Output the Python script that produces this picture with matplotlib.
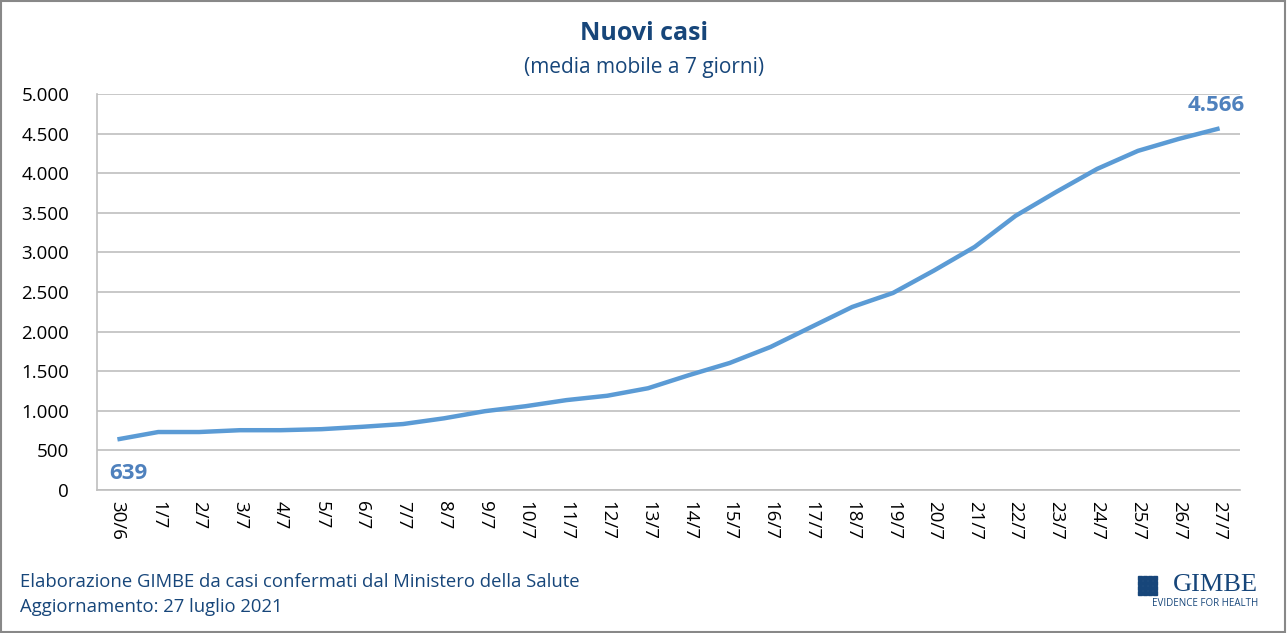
import matplotlib
matplotlib.use('Agg')
import matplotlib.pyplot as plt
from matplotlib.ticker import FuncFormatter
from matplotlib.patches import Rectangle

# Dates (x labels) and 7-day moving average of new cases
dates = ['30/6', '1/7', '2/7', '3/7', '4/7', '5/7', '6/7', '7/7', '8/7', '9/7',
         '10/7', '11/7', '12/7', '13/7', '14/7', '15/7', '16/7', '17/7', '18/7',
         '19/7', '20/7', '21/7', '22/7', '23/7', '24/7', '25/7', '26/7', '27/7']
cases = [639, 732, 732, 755, 755, 768, 798, 833, 905, 995,
         1058, 1135, 1190, 1285, 1450, 1604, 1806, 2059, 2311,
         2488, 2770, 3069, 3461, 3764, 4054, 4282, 4433, 4566]
yticks = list(range(0, 5001, 500))

plt.rcParams['font.family'] = ['Open Sans', 'DejaVu Sans']

fig = plt.figure(figsize=(12.88, 6.33), dpi=100)
ax = fig.add_axes([97/1288, 1 - 490/633, (1240 - 97)/1288, (490 - 94)/633])

x = list(range(len(dates)))
ax.plot(x, cases, color='#5B9BD5', linewidth=3.2, solid_capstyle='butt')

ax.set_xlim(-0.5, len(dates) - 0.5)
ax.set_ylim(0, 5000)
ax.set_yticks(yticks)
ax.yaxis.set_major_formatter(FuncFormatter(lambda v, p: f'{int(v):,}'.replace(',', '.')))
ax.set_xticks(x)
ax.set_xticklabels(dates, rotation=-90, va='top', ha='center')
ax.tick_params(axis='both', length=0, labelsize=13.5, colors='black')
ax.tick_params(axis='x', pad=8)
ax.tick_params(axis='y', pad=20)

ax.grid(axis='y', color='#BFBFBF', linewidth=1.2)
ax.set_axisbelow(True)
for s in ['top', 'right']:
    ax.spines[s].set_visible(False)
for s in ['left', 'bottom']:
    ax.spines[s].set_color('#BFBFBF')
    ax.spines[s].set_linewidth(1.2)

# data labels on first and last points
lab_col = '#4F81BD'
ax.annotate(f'{cases[0]}', (x[0], cases[0]), xytext=(-6, -17), textcoords='offset points',
            ha='left', va='top', fontsize=16, fontweight='bold', color=lab_col)
ax.annotate(f'{cases[-1]:,}'.replace(',', '.'), (x[-1], cases[-1]), xytext=(-23, 9),
            textcoords='offset points', ha='left', va='bottom', fontsize=16,
            fontweight='bold', color=lab_col, annotation_clip=False)

# titles
fig.text(0.5, 1 - 34/633, 'Nuovi casi', ha='center', va='center', fontsize=18,
         fontweight='bold', color='#17467A')
fig.text(0.5, 1 - 68/633, '(media mobile a 7 giorni)', ha='center', va='center',
         fontsize=15, color='#17467A')

# footer
fig.text(20/1288, 1 - 582/633, 'Elaborazione GIMBE da casi confermati dal Ministero della Salute',
         ha='left', va='center', fontsize=13.3, color='#17467A')
fig.text(20/1288, 1 - 607/633, 'Aggiornamento: 27 luglio 2021', ha='left', va='center',
         fontsize=13.3, color='#17467A')

# logo
fig.text(1258/1288, 1 - 585/633, 'GIMBE', ha='right', va='center', fontsize=19,
         color='#17467A', family=['Liberation Serif', 'DejaVu Serif'])
fig.text(1258/1288, 1 - 604/633, 'EVIDENCE FOR HEALTH', ha='right', va='center',
         fontsize=7, color='#17467A')
for i in range(4):
    for j in range(4):
        fig.patches.append(Rectangle(((1138 + i*5)/1288, 1 - (576 + j*5 + 3.5)/633),
                                     3.5/1288, 3.5/633, transform=fig.transFigure,
                                     color='#17467A', figure=fig))

# outer border
fig.patches.append(Rectangle((0.001, 0.002), 0.997, 0.996, transform=fig.transFigure,
                             fill=False, edgecolor='#888888', linewidth=1.5, figure=fig))

fig.savefig('out.png', dpi=100)
